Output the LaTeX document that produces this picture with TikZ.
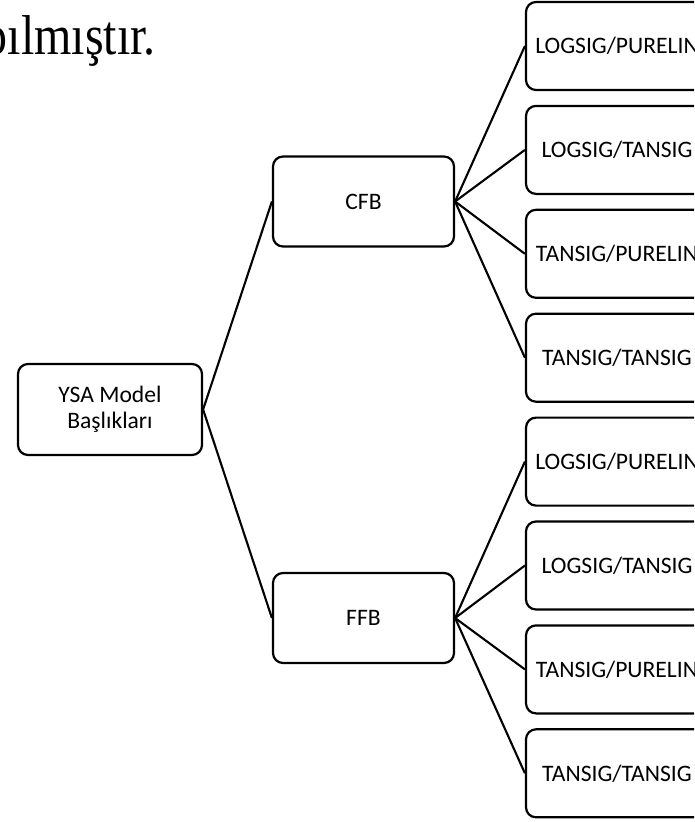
\documentclass[tikz,border=0pt]{standalone}
\usepackage{fontspec}
\setmainfont{Carlito}
\newfontfamily\serifface{Liberation Serif}
\begin{document}
\begin{tikzpicture}[x=1pt,y=-1pt,
  box/.style={draw=black,line width=2.2pt,rounded corners=10pt,align=center,
    inner sep=0pt,font=\fontsize{23.6}{26}\selectfont},
  leaf/.style={box,minimum width=182pt,minimum height=88pt},
  mid/.style={box,minimum width=181pt,minimum height=90pt},
  link/.style={line width=2.1pt}]
\useasboundingbox (0,0) rectangle (694,822);
\clip (0,0) rectangle (694,822);
\fill[white] (0,0) rectangle (694,822);
\node[anchor=base east,inner sep=0pt,font=\serifface] (txt) at (156,54)
  {\scalebox{1}[1.17]{\fontsize{48}{52}\selectfont yapılmıştır.}};
\node[box,minimum width=184pt,minimum height=91pt] (ysa) at (110,409.5) {YSA Model\\Başlıkları};
\node[mid] (cfb) at (363.5,201.5) {CFB};
\node[mid] (ffb) at (363.5,618) {FFB};
\node[leaf] (c1) at (617,46) {LOGSIG/PURELIN};
\node[leaf] (c2) at (617,149.9) {LOGSIG/TANSIG};
\node[leaf] (c3) at (617,253.8) {TANSIG/PURELIN};
\node[leaf] (c4) at (617,357.7) {TANSIG/TANSIG};
\node[leaf] (f1) at (617,461.6) {LOGSIG/PURELIN};
\node[leaf] (f2) at (617,565.5) {LOGSIG/TANSIG};
\node[leaf] (f3) at (617,669.4) {TANSIG/PURELIN};
\node[leaf] (f4) at (617,773.3) {TANSIG/TANSIG};
\draw[link] (ysa.east) -- (cfb.west);
\draw[link] (ysa.east) -- (ffb.west);
\foreach \n in {c1,c2,c3,c4} \draw[link] (cfb.east) -- (\n.west);
\foreach \n in {f1,f2,f3,f4} \draw[link] (ffb.east) -- (\n.west);
\end{tikzpicture}
\end{document}
